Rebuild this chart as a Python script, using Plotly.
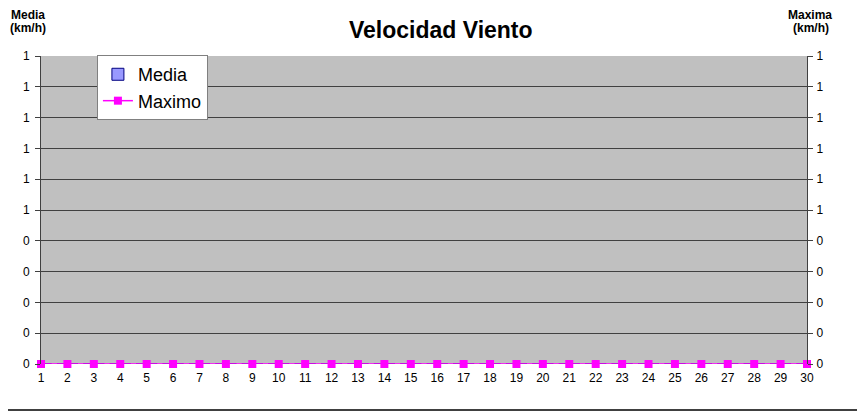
import plotly.graph_objects as go

dias = list(range(1, 31))
media = [0] * 30
maximo = [0] * 30
y_vals = [0, 0.1, 0.2, 0.3, 0.4, 0.5, 0.6, 0.7, 0.8, 0.9, 1.0]
y_labels = ["0", "0", "0", "0", "0", "1", "1", "1", "1", "1", "1"]

fuente = "Liberation Sans, Arial, sans-serif"

fig = go.Figure()
fig.add_trace(go.Bar(
    x=dias, y=media, name="Media", yaxis="y",
    marker=dict(color="#9999FF", line=dict(color="#000080", width=1)),
))
fig.add_trace(go.Scatter(
    x=dias, y=maximo, name="Maximo", yaxis="y2", mode="lines+markers",
    line=dict(color="#FF00FF", width=1.5),
    marker=dict(symbol="square", size=8, color="#FF00FF"),
    cliponaxis=False,
))

# la pagina tiene 8px de margen en el body, se compensa en el tamaño
fig.update_layout(
    width=857, height=404,
    margin=dict(l=33, r=58, t=48, b=48),
    paper_bgcolor="white",
    plot_bgcolor="#C0C0C0",
    font=dict(family=fuente, size=12, color="black"),
    title=dict(text="<b>Velocidad Viento</b>", x=0.505, xanchor="center",
               y=0.9455, yanchor="middle", font=dict(size=23)),
    showlegend=True,
    legend=dict(x=0.073, y=1.003, xanchor="left", yanchor="top",
                bgcolor="white", bordercolor="#808080", borderwidth=1,
                font=dict(size=18), tracegroupgap=0),
    xaxis=dict(range=[1, 30], tickvals=dias, ticktext=[str(d) for d in dias],
               showgrid=False, zeroline=False, ticks="", showline=False,
               tickfont=dict(size=12), automargin=False, ticklabelstandoff=5),
    yaxis=dict(range=[0, 1], tickvals=y_vals, ticktext=y_labels,
               showgrid=True, gridcolor="#404040", gridwidth=1, zeroline=False,
               showline=True, linecolor="#404040", linewidth=1,
               ticks="outside", ticklen=5, tickcolor="#404040",
               automargin=False, ticklabelstandoff=3),
    yaxis2=dict(range=[0, 1], tickvals=y_vals, ticktext=y_labels,
                overlaying="y", side="right", showgrid=False, zeroline=False,
                showline=True, linecolor="#404040", linewidth=1,
                ticks="outside", ticklen=5, tickcolor="#404040",
                automargin=False, ticklabelstandoff=1),
    annotations=[
        dict(text="<b>Media</b>", xref="paper", yref="paper",
             x=-0.017, y=1.133, xanchor="center", yanchor="middle",
             showarrow=False, font=dict(size=12)),
        dict(text="<b>(km/h)</b>", xref="paper", yref="paper",
             x=-0.017, y=1.091, xanchor="center", yanchor="middle",
             showarrow=False, font=dict(size=12)),
        dict(text="<b>Maxima</b>", xref="paper", yref="paper",
             x=1.004, y=1.133, xanchor="center", yanchor="middle",
             showarrow=False, font=dict(size=12)),
        dict(text="<b>(km/h)</b>", xref="paper", yref="paper",
             x=1.005, y=1.091, xanchor="center", yanchor="middle",
             showarrow=False, font=dict(size=12)),
    ],
    shapes=[
        # marco exterior: abajo y derecha
        dict(type="line", xref="paper", yref="paper",
             x0=-0.06, x1=1.0705, y0=-0.149, y1=-0.149,
             line=dict(color="#404040", width=2), layer="above"),
        dict(type="line", xref="paper", yref="paper",
             x0=1.0705, x1=1.0705, y0=-0.149, y1=1.2,
             line=dict(color="#404040", width=2), layer="above"),
    ],
)

fig.write_html("out.html")
